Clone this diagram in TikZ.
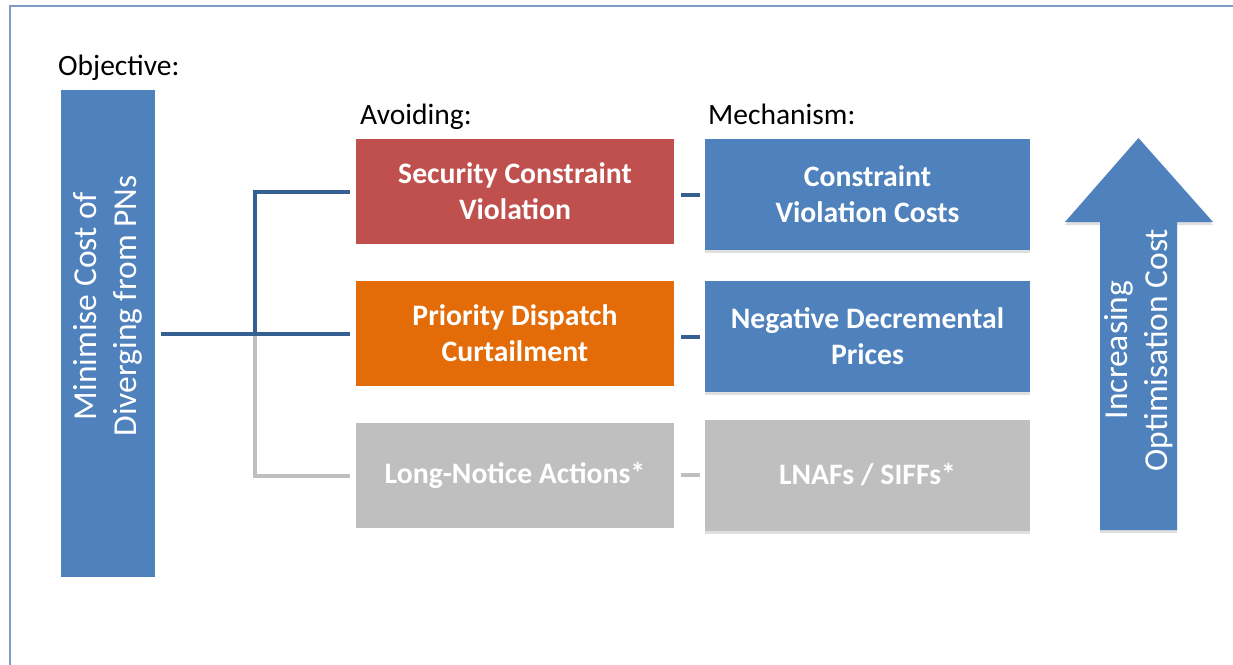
\documentclass[tikz,border=0pt]{standalone}
\usepackage{fontspec}
\setmainfont{Carlito}
\usetikzlibrary{shadows}
\definecolor{accentblue}{HTML}{4F81BD}
\definecolor{accentred}{HTML}{C0504D}
\definecolor{accentorange}{HTML}{E36C09}
\definecolor{softgray}{HTML}{BFBFBF}
\definecolor{linkblue}{HTML}{376092}
\definecolor{frameblue}{HTML}{7F9BCB}
\begin{document}
\begin{tikzpicture}[x=1pt, y=-1pt,
        box/.style={minimum width=318pt, minimum height=105pt, inner sep=0pt, text=white, align=center,
                font=\bfseries\fontsize{29.7}{36}\selectfont},
        mechbox/.style={box, fill=accentblue, minimum width=325pt, minimum height=111pt,
                drop shadow={shadow xshift=0pt, shadow yshift=-3pt, opacity=.25}},
        heading/.style={anchor=base west, inner sep=0pt, font=\fontsize{29.5}{35}\selectfont},
        bartext/.style={rotate=90, align=center, text=white, font=\fontsize{33.5}{40}\selectfont},
        link/.style={draw=linkblue, line width=4pt},
        greylink/.style={draw=softgray, line width=4pt}]
        \useasboundingbox (0,0) rectangle (1233,664);
        \fill[white] (0,0) rectangle (1233,664);
        \clip (0,0) rectangle (1233,664);
        \draw[frameblue, line width=1.5pt] (10,6) rectangle (1260,690);

        \node[heading] (objective) at (58,75) {Objective:};
        \node[heading] (avoiding) at (360,124) {Avoiding:};
        \node[heading] (mechanism) at (708,124) {Mechanism:};

        \node[fill=accentblue, minimum width=94pt, minimum height=487pt, inner sep=0pt] (obj) at (108,333.5) {};
        \node[bartext] (objtext) at (108,306) {Minimise Cost of\\Diverging from PNs};

        \node[box, fill=accentred] (avoid1) at (515,191.5) {Security Constraint\\Violation};
        \node[box, fill=accentorange] (avoid2) at (515,333.5) {Priority Dispatch\\Curtailment};
        \node[box, fill=softgray] (avoid3) at (515,475.5) {Long-Notice Actions*};

        \node[mechbox] (mech1) at (867.5,194.5) {Constraint\\Violation Costs};
        \node[mechbox] (mech2) at (867.5,336.5) {Negative Decremental\\Prices};
        \node[mechbox, fill=softgray] (mech3) at (867.5,475) {LNAFs / SIFFs*};

        \coordinate (split) at (255,333.5);
        \draw[greylink, shorten >=6pt] (split) |- (avoid3.west);
        \draw[link, shorten <=6pt, shorten >=6pt] (obj.east) -- (avoid2.west);
        \draw[link, shorten >=6pt] (split) |- (avoid1.west);

        \draw[link, shorten <=7pt, shorten >=5pt] (avoid1.east |- mech1.west) -- (mech1.west);
        \draw[link, shorten <=7pt, shorten >=5pt] (avoid2.east |- mech2.west) -- (mech2.west);
        \draw[greylink, shorten <=7pt, shorten >=5pt] (avoid3.east |- mech3.west) -- (mech3.west);

        \fill[accentblue, drop shadow={shadow xshift=0pt, shadow yshift=-3pt, opacity=.25}]
                (1100,530) -- (1100,222) -- (1065,222) -- (1138.5,138) -- (1213,222) -- (1177,222) -- (1177,530) -- cycle;
        \node[bartext] (arrowtext) at (1138.5,350) {Increasing\\Optimisation Cost};
\end{tikzpicture}
\end{document}
